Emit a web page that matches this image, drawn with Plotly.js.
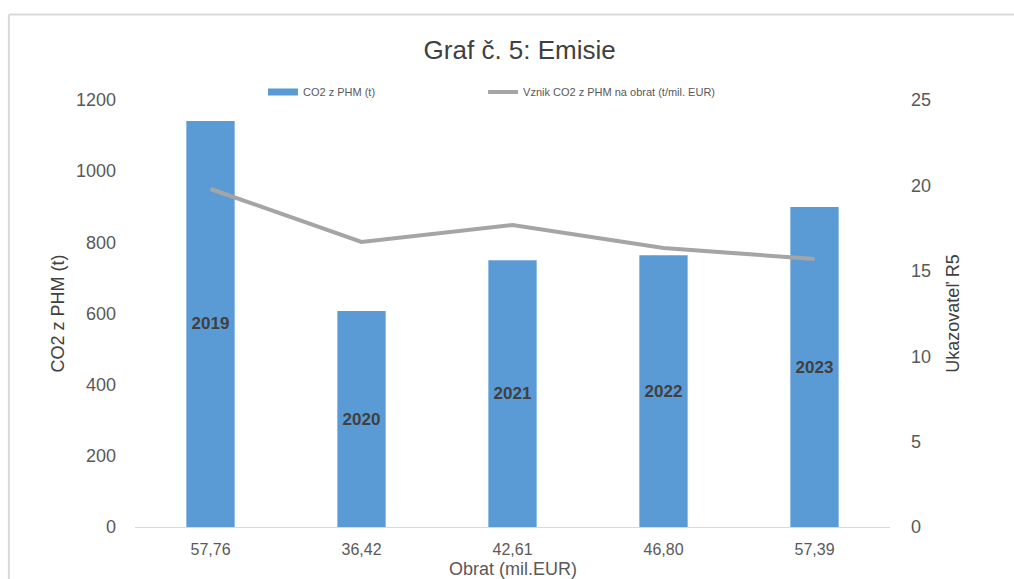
<!DOCTYPE html>
<html>
<head>
<meta charset="utf-8">
<script src="https://cdn.plot.ly/plotly-3.0.1.min.js"></script>
<style>
html,body{margin:0;padding:0;background:#fff;}
#chart{width:1014px;height:579px;}
</style>
</head>
<body>
<div id="chart"></div>
<script>
const obrat = ["57,76", "36,42", "42,61", "46,80", "57,39"];
const years = ["2019", "2020", "2021", "2022", "2023"];
const co2 = [1141, 607, 750, 764, 899];
const intensity = [19.79, 16.69, 17.68, 16.33, 15.69];
const xTitle = "Obrat (mil.EUR)";

const FONT = "Liberation Sans, Arial, sans-serif";

const traces = [
  {
    type: "bar",
    name: "CO2 z PHM (t)",
    x: obrat,
    y: co2,
    text: years,
    textposition: "inside",
    insidetextanchor: "middle",
    textangle: 0,
    textfont: {family: FONT, size: 17, color: "#404040", weight: "bold"},
    marker: {color: "#5b9bd5"},
    showlegend: false,
    legendgroup: "bar",
    hoverinfo: "y"
  },
  {
    // legend-only swatch for the bar series (wide rectangle as in the original)
    type: "scatter",
    mode: "lines",
    name: "CO2 z PHM (t)",
    x: [null],
    y: [null],
    legendgroup: "bar",
    legend: "legend",
    line: {color: "#5b9bd5", width: 7},
    hoverinfo: "skip"
  },
  {
    type: "scatter",
    mode: "lines",
    name: "Vznik CO2 z PHM na obrat (t/mil. EUR)",
    x: obrat,
    y: intensity,
    yaxis: "y2",
    legend: "legend2",
    line: {color: "#a5a5a5", width: 4},
    hoverinfo: "y"
  }
];

const legendCommon = {
  orientation: "h",
  xanchor: "left",
  y: 1.0187, yanchor: "middle",
  font: {family: FONT, size: 11, color: "#595959"},
  bgcolor: "rgba(0,0,0,0)"
};

const layout = {
  width: 1014,
  height: 579,
  margin: {l: 135, r: 124, t: 100, b: 52},
  paper_bgcolor: "#fff",
  plot_bgcolor: "#fff",
  font: {family: FONT, color: "#595959"},
  bargap: 0.68,
  showlegend: true,
  title: {
    text: "Graf č. 5: Emisie",
    font: {family: FONT, size: 26, color: "#404040"},
    x: 0.5095, xref: "paper", xanchor: "center",
    y: 49, yref: "container", yanchor: "middle"
  },
  legend: Object.assign({}, legendCommon, {x: 0.1695}),
  legend2: Object.assign({}, legendCommon, {x: 0.461}),
  xaxis: {
    type: "category",
    showgrid: false,
    showline: true,
    linecolor: "#d9d9d9",
    linewidth: 1,
    zeroline: false,
    ticks: "",
    ticklabelstandoff: 8,
    tickfont: {family: FONT, size: 16, color: "#595959"},
    automargin: false
  },
  yaxis: {
    range: [0, 1200],
    dtick: 200,
    showgrid: false,
    zeroline: false,
    showline: false,
    ticks: "",
    ticklabelstandoff: 18,
    tickfont: {family: FONT, size: 18, color: "#595959"},
    title: {text: "CO2 z PHM (t)", font: {family: FONT, size: 18, color: "#404040"}, standoff: 6},
    automargin: false
  },
  yaxis2: {
    overlaying: "y",
    side: "right",
    range: [0, 25],
    dtick: 5,
    showgrid: false,
    zeroline: false,
    showline: false,
    ticks: "",
    ticklabelstandoff: 20,
    tickfont: {family: FONT, size: 18, color: "#595959"},
    title: {text: "Ukazovateľ R5", font: {family: FONT, size: 18, color: "#404040"}, standoff: 16},
    automargin: false
  },
  annotations: [
    {text: xTitle, xref: "paper", yref: "paper", x: 0.5, y: 0, xanchor: "center", yanchor: "middle",
     yshift: -42, showarrow: false, font: {family: FONT, size: 18, color: "#595959"}}
  ],
  shapes: [
    {type: "line", xref: "paper", yref: "paper", x0: -0.167, x1: 1.2, y0: 1.2, y1: 1.2, line: {color: "#d9d9d9", width: 2}},
    {type: "line", xref: "paper", yref: "paper", x0: -0.167, x1: -0.167, y0: 1.2, y1: -0.2, line: {color: "#d9d9d9", width: 2}}
  ]
};

Plotly.newPlot("chart", traces, layout, {displayModeBar: false});
</script>
</body>
</html>
